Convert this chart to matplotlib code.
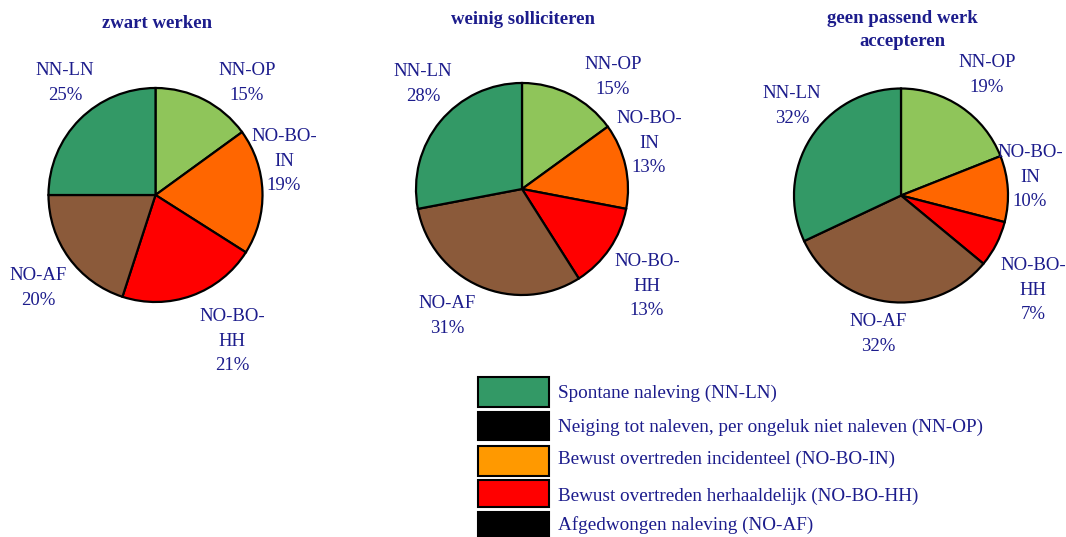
import matplotlib.pyplot as plt
from matplotlib.patches import Rectangle

plt.rcParams['font.family'] = ['Liberation Serif', 'DejaVu Serif']

# slice order, clockwise from 12 o'clock
codes = ['NN-OP', 'NO-BO-IN', 'NO-BO-HH', 'NO-AF', 'NN-LN']
colors = ['#8fc55a', '#ff6600', '#ff0000', '#8b5a3a', '#339966']

titles = ['zwart werken', 'weinig solliciteren', 'geen passend werk\naccepteren']
zwart_werken = [15, 19, 21, 20, 25]
weinig_solliciteren = [15, 13, 13, 31, 28]
geen_passend_werk = [19, 10, 7, 32, 32]
series = [zwart_werken, weinig_solliciteren, geen_passend_werk]

legend_labels = ['Spontane naleving (NN-LN)',
                 'Neiging tot naleven, per ongeluk niet naleven (NN-OP)',
                 'Bewust overtreden incidenteel (NO-BO-IN)',
                 'Bewust overtreden herhaaldelijk (NO-BO-HH)',
                 'Afgedwongen naleving (NO-AF)']
legend_colors = ['#339966', '#000000', '#ff9900', '#ff0000', '#000000']

W, H = 1066, 537
navy = '#1c1c8c'

fig = plt.figure(figsize=(W / 100, H / 100), dpi=100)
ax = fig.add_axes([0, 0, 1, 1])

# pie centres / radii in pixels (y measured from top)
centres = [(155.5, 195), (522, 189), (901, 195.5)]
radius = [107, 106, 107]
title_pos = [(157, 23), (523, 20), (902, 30)]

# label anchor points (x, y of first line), one per slice in `codes` order
label_pos = [
    [(247, 72), (284, 138), (232, 318), (38, 277), (65, 72)],
    [(613, 66), (649, 120), (647, 263), (447, 305), (423, 73)],
    [(987, 64), (1030, 154), (1033, 267), (878, 323), (792, 95)],
]

def label_text(code, v):
    if code.startswith('NO-BO-'):
        return 'NO-BO-\n' + code[6:] + '\n%d%%' % v
    return code + '\n%d%%' % v

for i, vals in enumerate(series):
    cx, cy = centres[i]
    ax.pie(vals, colors=colors, startangle=90, counterclock=False,
           center=(cx, H - cy), radius=radius[i],
           wedgeprops=dict(edgecolor='black', linewidth=1.6))
    tx, ty = title_pos[i]
    ax.text(tx, H - ty, titles[i], ha='center', va='center', color=navy,
            fontsize=13.5, fontweight='bold', linespacing=1.45)
    for code, v, (lx, ly) in zip(codes, vals, label_pos[i]):
        ax.text(lx, H - ly + 10, label_text(code, v), ha='center', va='top',
                color=navy, fontsize=13.5, linespacing=1.58)

# legend boxes
box_top = [377, 412, 446, 480, 512]
box_h = [30, 28, 30, 27, 30]
text_y = [393, 427, 459, 496, 525]
for lab, col, top, bh, ty in zip(legend_labels, legend_colors, box_top, box_h, text_y):
    ax.add_patch(Rectangle((478, H - top - bh), 71, bh, facecolor=col,
                           edgecolor='black', linewidth=1.5))
    ax.text(558, H - ty, lab, ha='left', va='center', color=navy, fontsize=13.8)

ax.set_xlim(0, W)
ax.set_ylim(0, H)
ax.set_aspect('auto')
ax.axis('off')

fig.savefig('out.png', dpi=100)
